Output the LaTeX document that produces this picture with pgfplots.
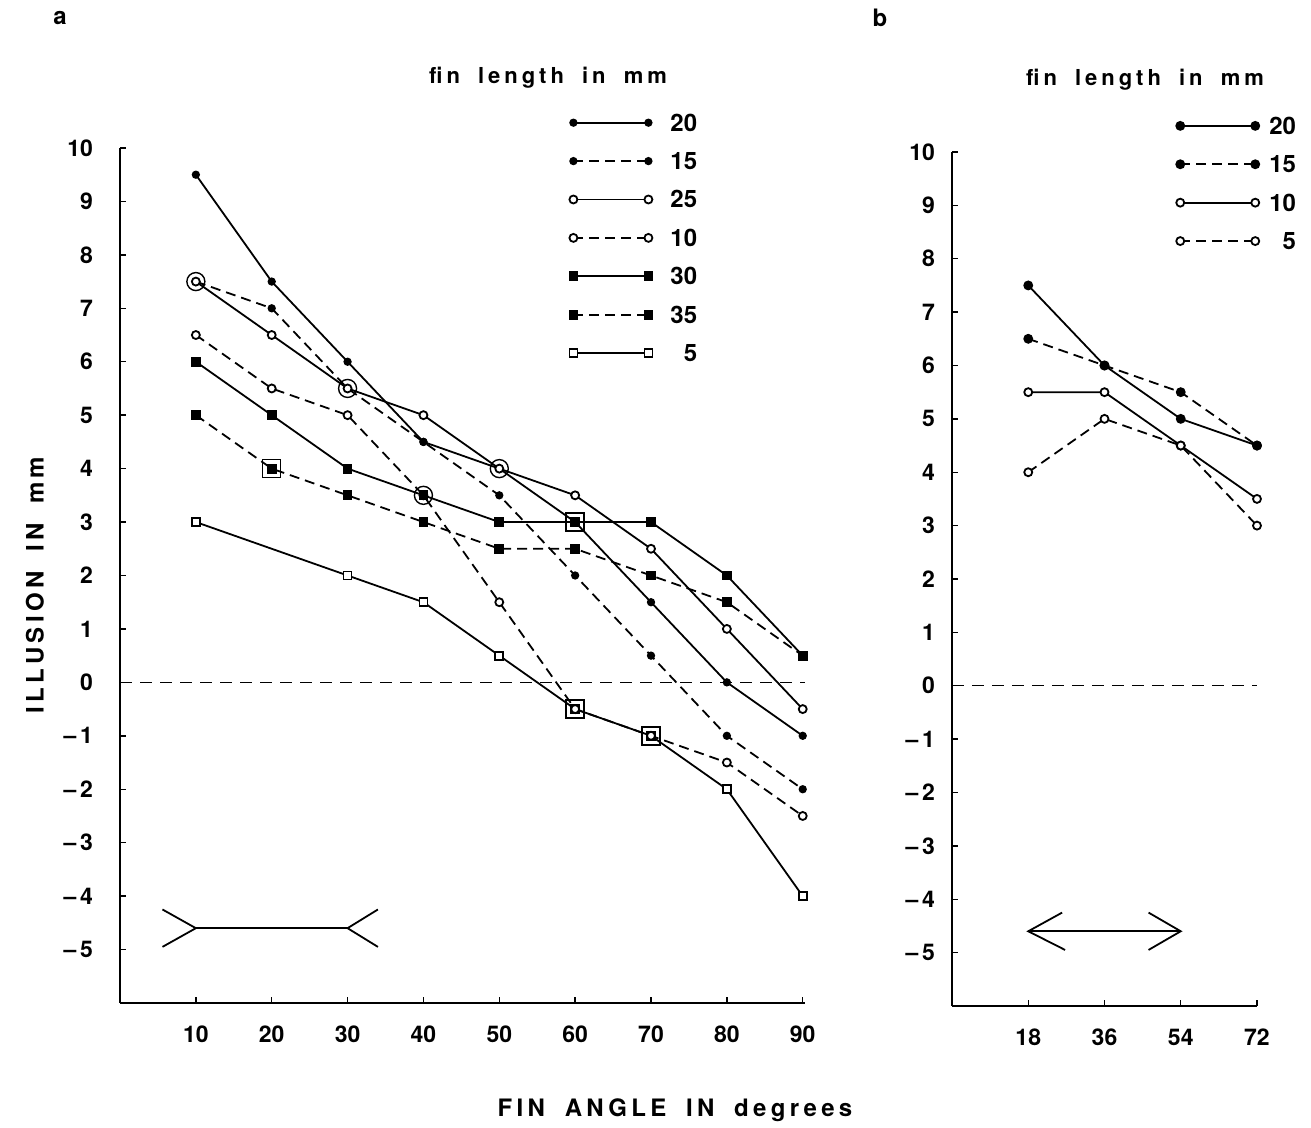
\documentclass[border=0pt]{standalone}
\usepackage{fontspec}
\setmainfont{TeX Gyre Heros}
\newfontfamily\spaced[LetterSpace=18,WordSpace=1.8]{TeX Gyre Heros}
\usepackage{pgfplots}
\pgfplotsset{compat=1.18}

\pgfplotsset{
  fig/.style={
    scale only axis,
    axis x line*=bottom, axis y line*=left,
    axis line style={line width=0.8pt},
    tick align=inside, major tick length=3pt,
    tick style={line width=0.7pt, black},
    /pgf/number format/assume math mode=true,
    ymin=-6, ymax=10,
    ytick={-5,-4,-3,-2,-1,0,1,2,3,4,5,6,7,8,9,10},
    yticklabels={\textendash\,5,\textendash\,4,\textendash\,3,\textendash\,2,\textendash\,1,0,1,2,3,4,5,6,7,8,9,10},
    tick label style={font=\bfseries\fontsize{11.5}{12}\selectfont},
    xticklabel style={yshift=-8pt},
    clip=false,
    legend cell align=right,
    legend style={draw=none, fill=none, inner sep=0pt, anchor=north west,
      row sep=10.7pt,
      font=\bfseries\fontsize{12}{13}\selectfont,
      nodes={inner sep=0pt, text height=8.5pt, text depth=0pt}},
    legend image code/.code={\draw[##1] plot coordinates {(0pt,0pt) (37.5pt,0pt)};},
  },
  base/.style={black, line width=0.9pt},
  dsh/.style={dash pattern=on 5pt off 3pt},
  fdot/.style={mark=*, mark size=1.6pt, mark options={solid}},
  odot/.style={mark=*, mark size=2pt, mark options={solid, fill=white}},
  fsq/.style={mark=square*, mark size=2pt, mark options={solid}},
  osq/.style={mark=square*, mark size=2pt, mark options={solid, fill=white}},
}

\begin{document}
\begin{tikzpicture}
\path[use as bounding box] (0,0) rectangle (655.5pt,564pt);

% panel a
\begin{axis}[fig,
  at={(60pt,62.5pt)}, anchor=south west,
  width=342.5pt, height=427.5pt,
  xmin=0, xmax=90.3,
  xtick={10,20,30,40,50,60,70,80,90},
  yticklabel style={xshift=-10pt},
  legend style={at={(0.6555,1.04)},
    /tikz/every odd column/.append style={column sep=9pt}},
]
\addplot[base, fdot] coordinates {(10,9.5) (20,7.5) (30,6.0) (40,4.5) (50,4.0) (60,3.0) (70,1.5) (80,0) (90,-1.0)};
\addlegendentry{20}
\addplot[base, dsh, fdot] coordinates {(10,7.5) (20,7.0) (30,5.5) (40,4.5) (50,3.5) (60,2.0) (70,0.5) (80,-1.0) (90,-2.0)};
\addlegendentry{15}
\addplot[base, odot] coordinates {(10,7.5) (20,6.5) (30,5.5) (40,5.0) (50,4.0) (60,3.5) (70,2.5) (80,1.0) (90,-0.5)};
\addlegendentry{25}
\addplot[base, dsh, odot] coordinates {(10,6.5) (20,5.5) (30,5.0) (40,3.5) (50,1.5) (60,-0.5) (70,-1.0) (80,-1.5) (90,-2.5)};
\addlegendentry{10}
\addplot[base, fsq] coordinates {(10,6.0) (20,5.0) (30,4.0) (40,3.5) (50,3.0) (60,3.0) (70,3.0) (80,2.0) (90,0.5)};
\addlegendentry{30}
\addplot[base, dsh, fsq] coordinates {(10,5.0) (20,4.0) (30,3.5) (40,3.0) (50,2.5) (60,2.5) (70,2.0) (80,1.5) (90,0.5)};
\addlegendentry{35}
\addplot[base, osq] coordinates {(10,3.0) (30,2.0) (40,1.5) (50,0.5) (60,-0.5) (70,-1.0) (80,-2.0) (90,-4.0)};
\addlegendentry{5}
% coinciding points
\addplot[forget plot, only marks, mark=o, mark size=4.5pt, line width=0.7pt] coordinates {(10,7.5) (30,5.5) (40,3.5) (50,4.0)};
\addplot[forget plot, only marks, mark=square, mark size=4.5pt, line width=0.7pt] coordinates {(20,4.0) (60,3.0) (60,-0.5) (70,-1.0)};
\addplot[odot, only marks, forget plot, base] coordinates {(60,-0.5) (70,-1.0)};
% zero line
\addplot[forget plot, black, line width=0.6pt, dash pattern=on 6pt off 4pt] coordinates {(0,0) (90.3,0)};
% figure
\addplot[forget plot, base] coordinates {(5.6,-4.25) (10,-4.6) (5.6,-4.95)};
\addplot[forget plot, base] coordinates {(10,-4.6) (30,-4.6)};
\addplot[forget plot, base] coordinates {(34,-4.25) (30,-4.6) (34,-4.95)};
\end{axis}

% panel b
\begin{axis}[fig,
  at={(476pt,61pt)}, anchor=south west,
  width=152.5pt, height=427pt,
  xmin=0, xmax=72,
  xtick={18,36,54,72},
  yticklabel style={xshift=-5pt},
  legend style={at={(0.734,1.041)},
    /tikz/every odd column/.append style={column sep=5pt}},
]
\addplot[base, fdot, mark size=2pt] coordinates {(18,7.5) (36,6.0) (54,5.0) (72,4.5)};
\addlegendentry{20}
\addplot[base, dsh, fdot, mark size=2pt] coordinates {(18,6.5) (36,6.0) (54,5.5) (72,4.5)};
\addlegendentry{15}
\addplot[base, odot] coordinates {(18,5.5) (36,5.5) (54,4.5) (72,3.5)};
\addlegendentry{10}
\addplot[base, dsh, odot] coordinates {(18,4.0) (36,5.0) (54,4.5) (72,3.0)};
\addlegendentry{5}
\addplot[forget plot, black, line width=0.6pt, dash pattern=on 6pt off 4pt] coordinates {(0,0) (72,0)};
\addplot[forget plot, base] coordinates {(26,-4.25) (18,-4.6) (26.7,-4.95)};
\addplot[forget plot, base] coordinates {(18,-4.6) (54,-4.6)};
\addplot[forget plot, base] coordinates {(46.4,-4.25) (54,-4.6) (46.4,-4.95)};
\end{axis}

% labels
\node[font=\bfseries\fontsize{12}{13}\selectfont] at (30pt,555pt) {a};
\node[font=\bfseries\fontsize{12}{13}\selectfont] at (440pt,555pt) {b};
\node[font=\spaced\bfseries\fontsize{11}{12}\selectfont] at (274pt,525pt) {fin length in mm};
\node[font=\spaced\bfseries\fontsize{11}{12}\selectfont] at (572.5pt,524pt) {fin length in mm};
\node[font=\spaced\bfseries\fontsize{12}{13}\selectfont] at (337.5pt,9pt) {FIN ANGLE IN degrees};
\node[font=\spaced\bfseries\fontsize{12}{13}\selectfont, rotate=90] at (17.5pt,271.5pt) {ILLUSION IN mm};
\end{tikzpicture}
\end{document}
